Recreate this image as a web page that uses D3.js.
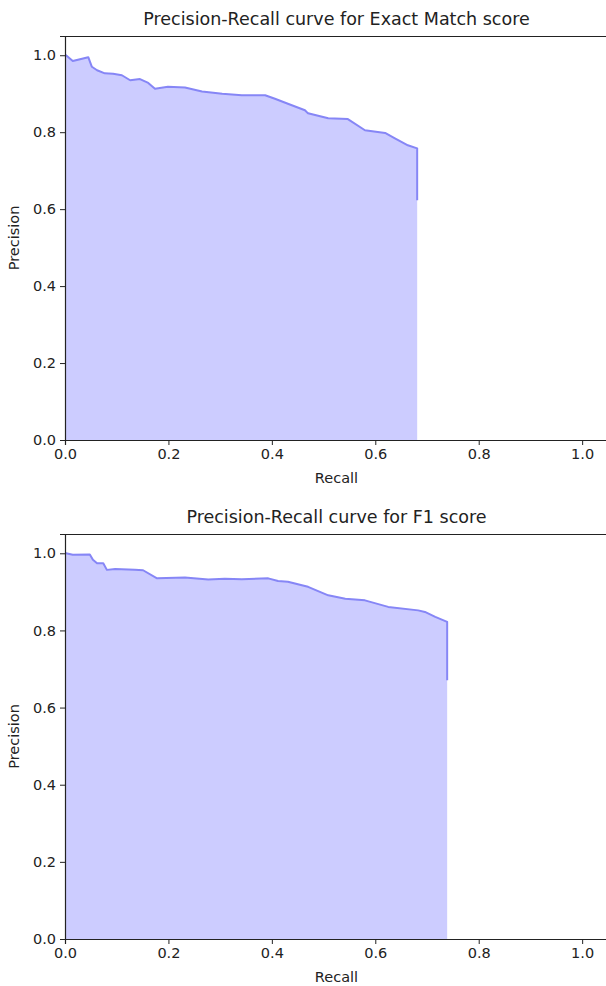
<!DOCTYPE html>
<html>
<head>
<meta charset="utf-8">
<script src="https://cdnjs.cloudflare.com/ajax/libs/d3/7.8.5/d3.min.js"></script>
<style>
  body { margin: 0; background: #fff; }
  text { font-family: "DejaVu Sans", sans-serif; fill: #222; }
</style>
</head>
<body>
<svg id="chart" width="606" height="986"></svg>
<script>
// values
const emRecall    = [0, 0.002, 0.015, 0.045, 0.052, 0.062, 0.077, 0.093, 0.110, 0.126, 0.145, 0.161, 0.174, 0.199, 0.232,
                     0.265, 0.304, 0.342, 0.387, 0.406, 0.431, 0.464, 0.470, 0.509, 0.547, 0.580, 0.619, 0.638, 0.663, 0.681, 0.681];
const emPrecision = [1.0, 1.0, 0.985, 0.995, 0.970, 0.961, 0.953, 0.952, 0.948, 0.935, 0.938, 0.928, 0.913, 0.918, 0.916,
                     0.906, 0.900, 0.896, 0.896, 0.887, 0.874, 0.857, 0.849, 0.836, 0.834, 0.805, 0.798, 0.784, 0.766, 0.758, 0.623];

const f1Recall    = [0, 0.002, 0.015, 0.048, 0.054, 0.062, 0.074, 0.081, 0.097, 0.135, 0.151, 0.178, 0.232,
                     0.277, 0.309, 0.342, 0.393, 0.412, 0.431, 0.464, 0.470, 0.509, 0.542, 0.580, 0.625, 0.683, 0.696, 0.716, 0.739, 0.739];
const f1Precision = [1.0, 1.0, 0.996, 0.997, 0.983, 0.974, 0.974, 0.957, 0.959, 0.957, 0.956, 0.935, 0.937,
                     0.932, 0.934, 0.933, 0.935, 0.928, 0.926, 0.915, 0.913, 0.891, 0.882, 0.878, 0.861, 0.852, 0.848, 0.835, 0.822, 0.671];

const tickValues = [0, 0.2, 0.4, 0.6, 0.8, 1.0];

const svg = d3.select("#chart");

function drawPR(recall, precision, title, top, bottom) {
    const left = 65, right = 608;
    const data = recall.map((r, i) => [r, precision[i]]);

    const x = d3.scaleLinear().domain([0, 1.05]).range([left, right]);
    const y = d3.scaleLinear().domain([0, 1.05]).range([bottom, top]);

    const g = svg.append("g");

    const area = d3.area()
        .x(d => x(d[0]))
        .y0(y(0))
        .y1(d => y(d[1]));

    g.append("path")
        .datum(data)
        .attr("fill", "#ccccff")
        .attr("d", area);

    const line = d3.line()
        .x(d => x(d[0]))
        .y(d => y(d[1]));

    g.append("path")
        .datum(data)
        .attr("fill", "none")
        .attr("stroke", "#8686f6")
        .attr("stroke-width", 2)
        .attr("stroke-linejoin", "round")
        .attr("d", line);

    // spines (right one is off the picture)
    g.append("line")
        .attr("x1", left).attr("x2", right)
        .attr("y1", top + 0.5).attr("y2", top + 0.5)
        .attr("stroke", "#222").attr("stroke-width", 1.2);

    const fmt = d3.format(".1f");

    const xAxis = g.append("g")
        .attr("transform", "translate(0," + bottom + ")")
        .call(d3.axisBottom(x).tickValues(tickValues).tickFormat(fmt).tickSize(5).tickPadding(4));

    const yAxis = g.append("g")
        .attr("transform", "translate(" + left + ",0)")
        .call(d3.axisLeft(y).tickValues(tickValues).tickFormat(fmt).tickSize(5).tickPadding(4));

    [xAxis, yAxis].forEach(a => {
        a.selectAll("path").attr("stroke", "#222").attr("stroke-width", 1.2);
        a.selectAll("line").attr("stroke", "#222").attr("stroke-width", 1);
        a.selectAll("text").attr("font-size", 14.5).attr("fill", "#222")
            .style("font-family", "'DejaVu Sans', sans-serif");
    });

    g.append("text")
        .attr("x", (left + right) / 2)
        .attr("y", top - 11)
        .attr("text-anchor", "middle")
        .attr("font-size", 17.5)
        .text(title);

    g.append("text")
        .attr("x", (left + right) / 2)
        .attr("y", bottom + 43)
        .attr("text-anchor", "middle")
        .attr("font-size", 14.5)
        .text("Recall");

    g.append("text")
        .attr("transform", "translate(19," + ((top + bottom) / 2) + ") rotate(-90)")
        .attr("text-anchor", "middle")
        .attr("font-size", 14.5)
        .text("Precision");
}

drawPR(emRecall, emPrecision, "Precision-Recall curve for Exact Match score", 36, 440);
drawPR(f1Recall, f1Precision, "Precision-Recall curve for F1 score", 534, 939);
</script>
</body>
</html>
